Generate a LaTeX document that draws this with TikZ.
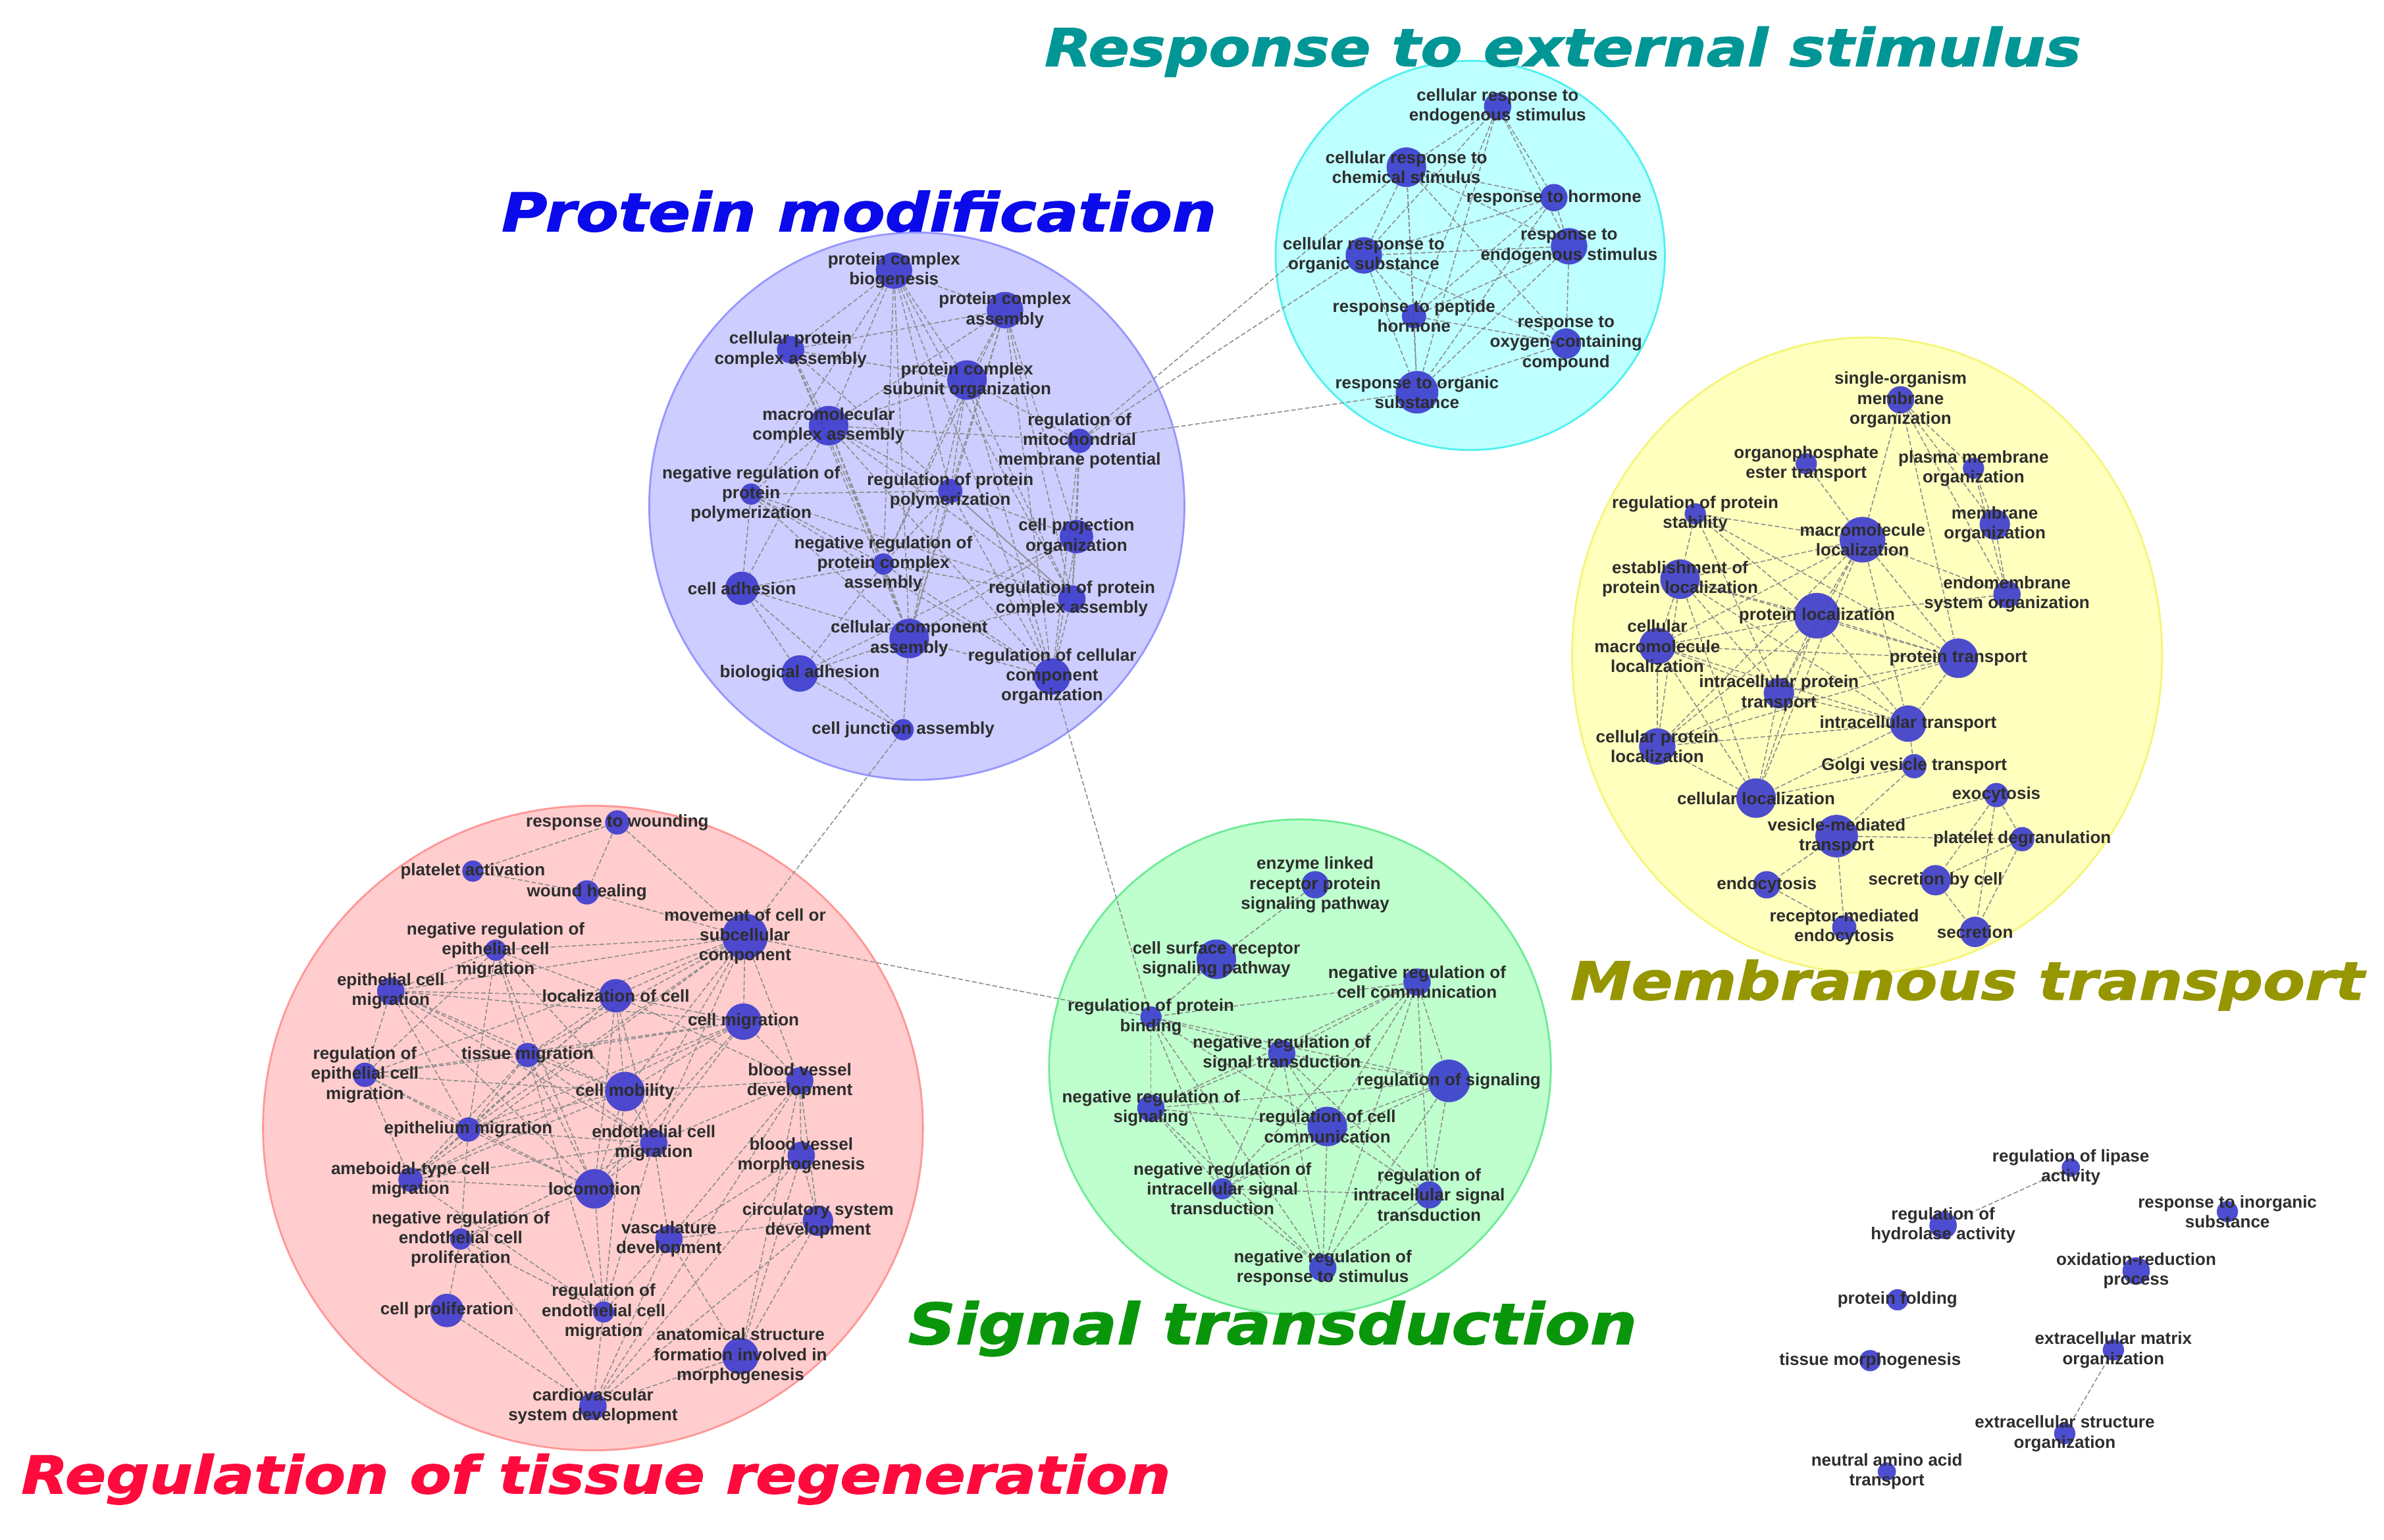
\documentclass[tikz,border=0pt]{standalone}
\usepackage{fontspec}
\setmainfont{Liberation Sans}
\newfontfamily\titlefont{DejaVu Sans}[BoldItalicFeatures={FakeBold=1.6}]
\usepackage{graphicx}
\usepackage{tikz}
\usetikzlibrary{shapes.geometric}

\definecolor{nodeblue}{RGB}{58,58,205}
\definecolor{termgray}{RGB}{45,45,45}
\definecolor{linkgray}{RGB}{140,140,140}
\definecolor{cyanfill}{RGB}{190,255,255}
\definecolor{cyanline}{RGB}{80,240,240}
\definecolor{protfill}{RGB}{205,205,255}
\definecolor{protline}{RGB}{150,150,255}
\definecolor{membfill}{RGB}{255,255,190}
\definecolor{membline}{RGB}{245,245,120}
\definecolor{tissfill}{RGB}{255,205,205}
\definecolor{tissline}{RGB}{255,150,150}
\definecolor{signfill}{RGB}{190,255,205}
\definecolor{signline}{RGB}{110,235,150}
\definecolor{headteal}{RGB}{0,150,150}
\definecolor{headblue}{RGB}{10,10,235}
\definecolor{headolive}{RGB}{150,150,0}
\definecolor{headgreen}{RGB}{10,150,10}
\definecolor{headred}{RGB}{255,10,60}

\pgfdeclarelayer{back}
\pgfdeclarelayer{mid}
\pgfsetlayers{back,mid,main}

\newcommand{\headfont}{\titlefont\bfseries\itshape}
\newcommand{\headline}[2]{\scalebox{1}[0.86]{\resizebox{#1}{!}{\headfont #2}}}
\newcommand{\goterm}[5]{%
  \node[go=#4] (#1) at (#2,#3) {};
  \node[termtext] at (#1) {#5};}

\begin{document}
\begin{tikzpicture}[x=0.0231cm,y=-0.0231cm,
    go/.style={circle,fill=nodeblue,fill opacity=0.9,draw=none,inner sep=0pt,minimum size=#1*0.462mm},
    termtext/.style={font=\fontsize{7.4}{8.6}\selectfont\bfseries,text=termgray,align=center,inner sep=0pt},
    link/.style={draw=linkgray,dash pattern=on 2pt off 1pt,line width=0.45pt},
    cluster/.style 2 args={fill=#1,draw=#2,line width=0.8pt}]
\useasboundingbox (0,0) rectangle (1568,1013);

\begin{pgfonlayer}{back}
  \fill[white] (0,0) rectangle (1568,1013);
  \draw[cluster={cyanfill}{cyanline}] (967,168) ellipse (128 and 128);
  \draw[cluster={protfill}{protline}] (603,333) ellipse (176 and 180);
  \draw[cluster={membfill}{membline}] (1228,431) ellipse (194 and 209);
  \draw[cluster={tissfill}{tissline}] (390,742) ellipse (217 and 212);
  \draw[cluster={signfill}{signline}] (855,702) ellipse (165 and 163);
\end{pgfonlayer}

% response to external stimulus
\goterm{c1}{985}{70}{9}{cellular response to\\endogenous stimulus}
\goterm{c2}{925}{110}{13}{cellular response to\\chemical stimulus}
\goterm{c3}{1022}{130}{9}{response to hormone}
\goterm{c4}{1032}{162}{12}{response to\\endogenous stimulus}
\goterm{c5}{897}{168}{12}{cellular response to\\organic substance}
\goterm{c6}{930}{208}{8}{response to peptide\\hormone}
\goterm{c7}{1030}{226}{10}{response to\\oxygen-containing\\compound}
\goterm{c8}{932}{258}{14}{response to organic\\substance}

% protein modification
\goterm{p1}{588}{178}{12}{protein complex\\biogenesis}
\goterm{p2}{661}{204}{12}{protein complex\\assembly}
\goterm{p3}{520}{230}{9}{cellular protein\\complex assembly}
\goterm{p4}{636}{250}{13}{protein complex\\subunit organization}
\goterm{p5}{545}{280}{13}{macromolecular\\complex assembly}
\goterm{p6}{710}{290}{8}{regulation of\\mitochondrial\\membrane potential}
\goterm{p7}{494}{325}{7}{negative regulation of\\protein\\polymerization}
\goterm{p8}{625}{323}{8}{regulation of protein\\polymerization}
\goterm{p9}{708}{353}{11}{cell projection\\organization}
\goterm{p10}{581}{371}{7}{negative regulation of\\protein complex\\assembly}
\goterm{p11}{488}{387}{11}{cell adhesion}
\goterm{p12}{705}{394}{9}{regulation of protein\\complex assembly}
\goterm{p13}{598}{420}{13}{cellular component\\assembly}
\goterm{p14}{526}{443}{12}{biological adhesion}
\goterm{p15}{692}{445}{12}{regulation of cellular\\component\\organization}
\goterm{p16}{594}{480}{7}{cell junction assembly}

% membranous transport
\goterm{m1}{1250}{263}{9}{single-organism\\membrane\\organization}
\goterm{m2}{1188}{305}{7}{organophosphate\\ester transport}
\goterm{m3}{1298}{308}{7}{plasma membrane\\organization}
\goterm{m4}{1115}{338}{7}{regulation of protein\\stability}
\goterm{m5}{1225}{355}{15}{macromolecule\\localization}
\goterm{m6}{1312}{345}{10}{membrane\\organization}
\goterm{m7}{1105}{381}{13}{establishment of\\protein localization}
\goterm{m8}{1320}{391}{9}{endomembrane\\system organization}
\goterm{m9}{1195}{405}{15}{protein localization}
\goterm{m10}{1090}{425}{12}{cellular\\macromolecule\\localization}
\goterm{m11}{1288}{433}{13}{protein transport}
\goterm{m12}{1170}{456}{10}{intracellular protein\\transport}
\goterm{m13}{1255}{476}{12}{intracellular transport}
\goterm{m14}{1090}{491}{12}{cellular protein\\localization}
\goterm{m15}{1259}{504}{8}{Golgi vesicle transport}
\goterm{m16}{1313}{523}{8}{exocytosis}
\goterm{m17}{1155}{525}{13}{cellular localization}
\goterm{m18}{1208}{550}{14}{vesicle-mediated\\transport}
\goterm{m19}{1330}{552}{8}{platelet degranulation}
\goterm{m20}{1162}{582}{9}{endocytosis}
\goterm{m21}{1273}{579}{10}{secretion by cell}
\goterm{m22}{1213}{610}{8}{receptor-mediated\\endocytosis}
\goterm{m23}{1299}{613}{10}{secretion}

% regulation of tissue regeneration
\goterm{r1}{406}{541}{8}{response to wounding}
\goterm{r2}{311}{573}{7}{platelet activation}
\goterm{r3}{386}{587}{8}{wound healing}
\goterm{r4}{490}{616}{15}{movement of cell or\\subcellular\\component}
\goterm{r5}{326}{625}{7}{negative regulation of\\epithelial cell\\migration}
\goterm{r6}{257}{652}{9}{epithelial cell\\migration}
\goterm{r7}{405}{655}{11}{localization of cell}
\goterm{r8}{489}{672}{12}{cell migration}
\goterm{r9}{240}{707}{8}{regulation of\\epithelial cell\\migration}
\goterm{r10}{347}{694}{8}{tissue migration}
\goterm{r11}{411}{718}{13}{cell mobility}
\goterm{r12}{526}{711}{9}{blood vessel\\development}
\goterm{r13}{308}{743}{8}{epithelium migration}
\goterm{r14}{430}{752}{9}{endothelial cell\\migration}
\goterm{r15}{527}{760}{9}{blood vessel\\morphogenesis}
\goterm{r16}{270}{776}{8}{ameboidal-type cell\\migration}
\goterm{r17}{391}{782}{13}{locomotion}
\goterm{r18}{303}{815}{7}{negative regulation of\\endothelial cell\\proliferation}
\goterm{r19}{440}{815}{9}{vasculature\\development}
\goterm{r20}{538}{803}{10}{circulatory system\\development}
\goterm{r21}{397}{863}{7}{regulation of\\endothelial cell\\migration}
\goterm{r22}{294}{862}{11}{cell proliferation}
\goterm{r23}{487}{892}{12}{anatomical structure\\formation involved in\\morphogenesis}
\goterm{r24}{390}{925}{9}{cardiovascular\\system development}

% signal transduction
\goterm{s1}{865}{582}{9}{enzyme linked\\receptor protein\\signaling pathway}
\goterm{s2}{800}{631}{13}{cell surface receptor\\signaling pathway}
\goterm{s3}{932}{646}{9}{negative regulation of\\cell communication}
\goterm{s4}{757}{669}{7}{regulation of protein\\binding}
\goterm{s5}{843}{693}{9}{negative regulation of\\signal transduction}
\goterm{s6}{953}{711}{14}{regulation of signaling}
\goterm{s7}{757}{729}{9}{negative regulation of\\signaling}
\goterm{s8}{873}{741}{13}{regulation of cell\\communication}
\goterm{s9}{804}{782}{7}{negative regulation of\\intracellular signal\\transduction}
\goterm{s10}{940}{786}{9}{regulation of\\intracellular signal\\transduction}
\goterm{s11}{870}{834}{9}{negative regulation of\\response to stimulus}

% unclustered terms
\goterm{i1}{1362}{768}{6}{regulation of lipase\\activity}
\goterm{i2}{1278}{806}{9}{regulation of\\hydrolase activity}
\goterm{i3}{1465}{797}{7}{response to inorganic\\substance}
\goterm{i4}{1405}{836}{9}{oxidation-reduction\\process}
\goterm{i5}{1248}{855}{7}{protein folding}
\goterm{i6}{1390}{888}{7}{extracellular matrix\\organization}
\goterm{i7}{1230}{895}{7}{tissue morphogenesis}
\goterm{i8}{1358}{943}{7}{extracellular structure\\organization}
\goterm{i9}{1241}{968}{6}{neutral amino acid\\transport}

\begin{pgfonlayer}{mid}
\foreach \a/\b in {c1/c2,c1/c3,c1/c4,c1/c5,c1/c6,c1/c8,c2/c3,c2/c4,c2/c5,c2/c6,c2/c7,c2/c8,
    c3/c4,c3/c5,c3/c6,c3/c8,c4/c5,c4/c6,c4/c7,c4/c8,c5/c6,c5/c7,c5/c8,c6/c7,c6/c8,c7/c8}
  \draw[link] (\a) -- (\b);
\foreach \a/\b in {p1/p2,p1/p3,p1/p4,p1/p5,p1/p7,p1/p8,p1/p10,p1/p12,p1/p13,p1/p15,
    p2/p3,p2/p4,p2/p5,p2/p8,p2/p9,p2/p10,p2/p12,p2/p13,p2/p15,p3/p4,p3/p5,p3/p10,p3/p12,p3/p13,
    p4/p5,p4/p6,p4/p8,p4/p10,p4/p12,p4/p13,p4/p15,p5/p6,p5/p7,p5/p8,p5/p10,p5/p11,p5/p12,p5/p13,p5/p15,
    p6/p9,p6/p12,p6/p15,p7/p8,p7/p10,p7/p11,p7/p12,p7/p13,p7/p15,p8/p9,p8/p10,p8/p12,p8/p13,p8/p15,
    p9/p12,p9/p13,p9/p14,p9/p15,p10/p11,p10/p12,p10/p13,p10/p14,p10/p15,p11/p13,p11/p14,p11/p16,
    p12/p13,p12/p15,p13/p14,p13/p15,p13/p16,p14/p16}
  \draw[link] (\a) -- (\b);
\foreach \a/\b in {m1/m3,m1/m5,m1/m6,m1/m8,m1/m11,m2/m5,m3/m6,m3/m8,m6/m8,
    m4/m5,m4/m7,m4/m9,m4/m11,m4/m12,m5/m7,m5/m8,m5/m9,m5/m10,m5/m11,m5/m12,m5/m13,m5/m14,m5/m17,
    m7/m9,m7/m10,m7/m11,m7/m12,m7/m13,m7/m14,m7/m17,m8/m9,m9/m10,m9/m11,m9/m12,m9/m13,m9/m14,m9/m17,
    m10/m11,m10/m12,m10/m13,m10/m14,m10/m17,m11/m12,m11/m13,m11/m14,m12/m13,m12/m14,m12/m17,
    m13/m14,m13/m15,m13/m17,m14/m17,m15/m17,m15/m18,m16/m18,m16/m19,m16/m21,m16/m23,
    m18/m19,m18/m20,m18/m22,m19/m21,m19/m23,m20/m22,m21/m23}
  \draw[link] (\a) -- (\b);
\foreach \a/\b in {r1/r2,r1/r3,r1/r4,r2/r3,r3/r4,r4/r5,r4/r6,r4/r7,r4/r8,r4/r9,r4/r10,r4/r11,r4/r12,
    r4/r13,r4/r14,r4/r16,r4/r17,r5/r6,r5/r7,r5/r9,r5/r10,r5/r11,r5/r13,r5/r17,
    r6/r7,r6/r8,r6/r9,r6/r10,r6/r11,r6/r13,r6/r14,r6/r17,r7/r8,r7/r10,r7/r11,r7/r12,r7/r13,r7/r14,r7/r16,r7/r17,
    r8/r9,r8/r10,r8/r11,r8/r12,r8/r13,r8/r14,r8/r16,r8/r17,r9/r10,r9/r11,r9/r13,r9/r16,r9/r17,
    r10/r11,r10/r13,r10/r14,r10/r16,r10/r17,r10/r21,r11/r12,r11/r13,r11/r14,r11/r16,r11/r17,r11/r21,
    r12/r14,r12/r15,r12/r19,r12/r20,r12/r23,r12/r24,r13/r14,r13/r16,r13/r17,r13/r18,
    r14/r16,r14/r17,r14/r18,r14/r19,r14/r21,r15/r19,r15/r20,r15/r23,r15/r24,r16/r17,r16/r21,
    r17/r18,r17/r21,r18/r21,r18/r22,r18/r24,r19/r20,r19/r21,r19/r23,r19/r24,
    r20/r23,r20/r24,r21/r24,r22/r24,r23/r24}
  \draw[link] (\a) -- (\b);
\foreach \a/\b in {s1/s2,s2/s4,s3/s4,s3/s5,s3/s6,s3/s7,s3/s8,s3/s9,s3/s10,s3/s11,
    s4/s5,s4/s6,s4/s7,s4/s8,s4/s9,s4/s11,s5/s6,s5/s7,s5/s8,s5/s9,s5/s10,s5/s11,
    s6/s7,s6/s8,s6/s9,s6/s10,s6/s11,s7/s8,s7/s9,s7/s11,s8/s9,s8/s10,s8/s11,s9/s10,s9/s11,s10/s11}
  \draw[link] (\a) -- (\b);
\foreach \a/\b in {p6/c2,p6/c5,p6/c8,p15/s4,p16/r4,r4/s4,i1/i2,i6/i8}
  \draw[link] (\a) -- (\b);
\end{pgfonlayer}

\node[text=headteal] (hresp) at (1028,34) {\headline{15.75cm}{Response to external stimulus}};
\node[text=headblue] (hprot) at (565,139) {\headline{10.86cm}{Protein modification}};
\node[text=headolive] (hmemb) at (1294,648) {\headline{12.06cm}{Membranous transport}};
\node[text=headgreen] (hsign) at (837,874) {\headline{11.07cm}{Signal transduction}};
\node[text=headred] (htiss) at (392,973) {\headline{17.46cm}{Regulation of tissue regeneration}};
\end{tikzpicture}
\end{document}
